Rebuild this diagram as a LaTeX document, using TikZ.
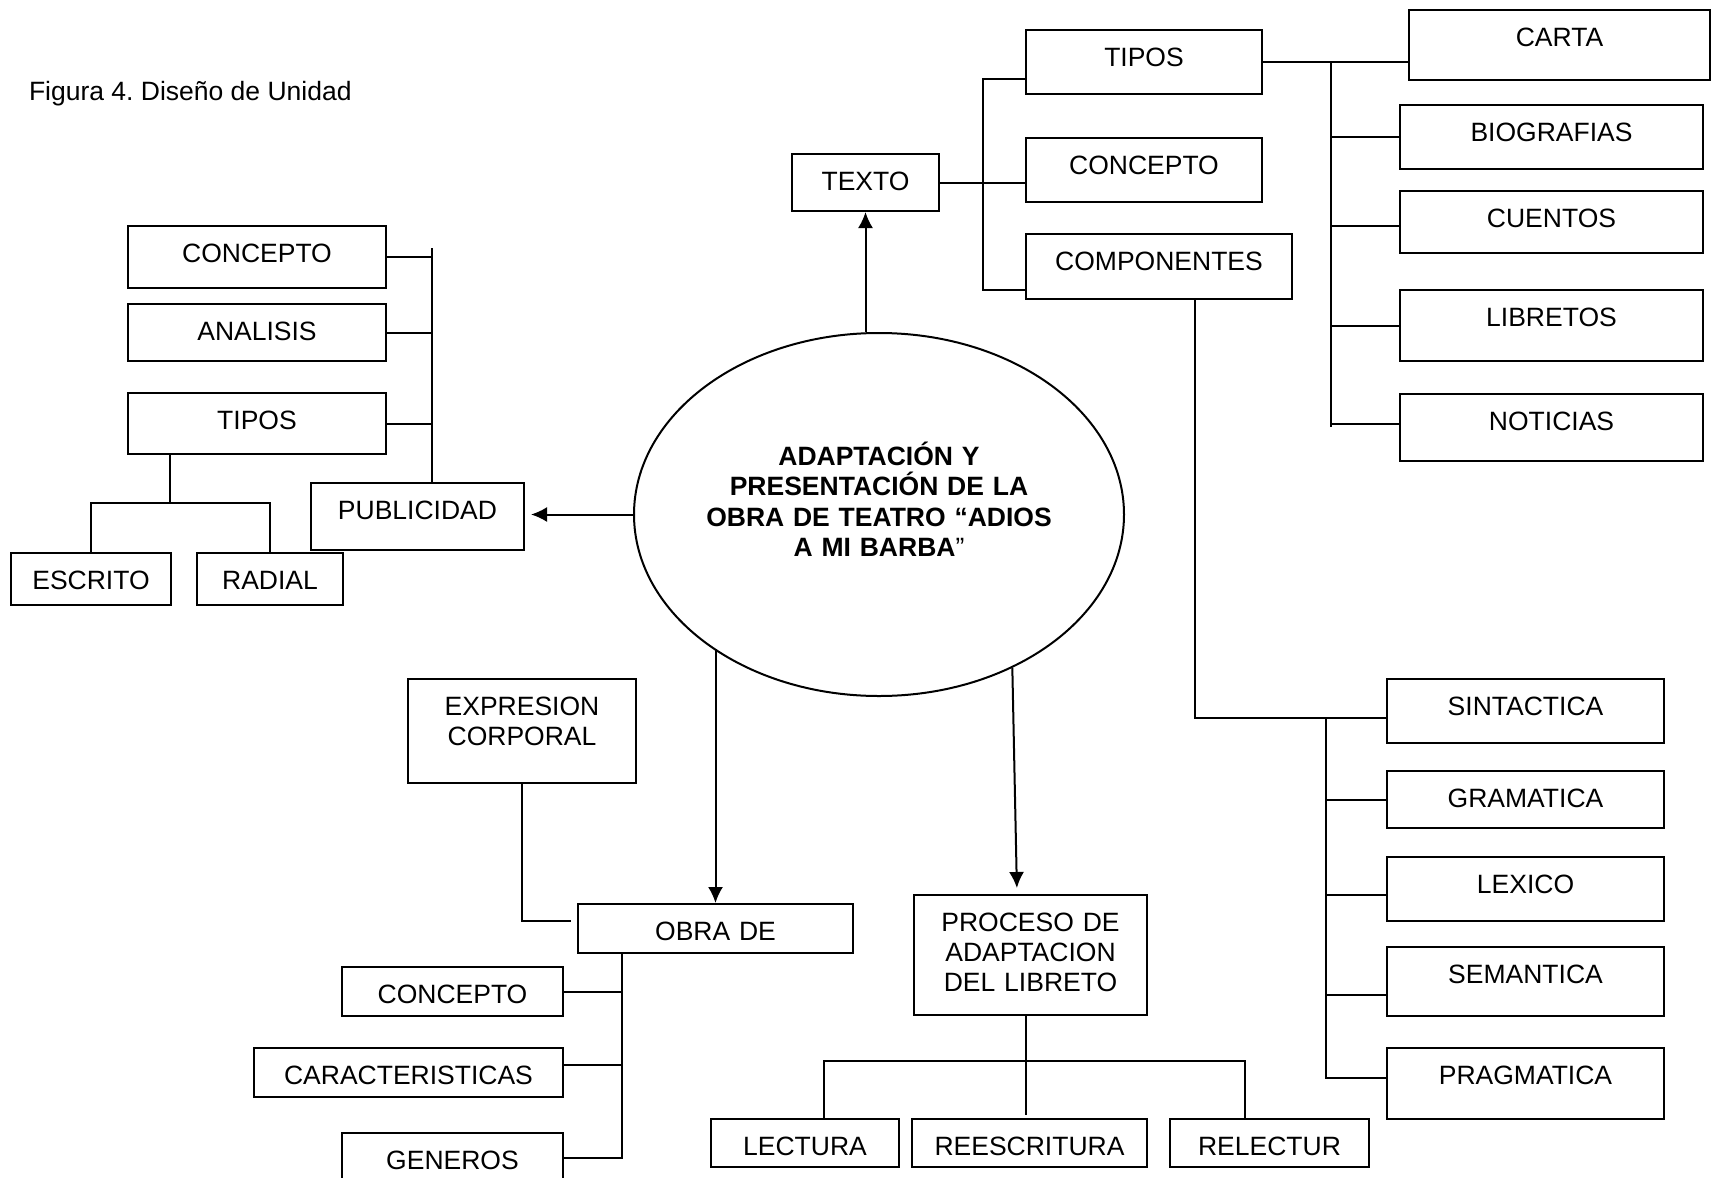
\documentclass[tikz,border=0pt]{standalone}
\usepackage{fontspec}
\setmainfont{Liberation Sans}
\usetikzlibrary{arrows.meta,shapes.geometric}
\frenchspacing
\begin{document}
\begin{tikzpicture}[x=1pt,y=-1pt,line width=2pt,
  cbox/.style={draw,rectangle,anchor=north west,inner sep=0pt,align=center,text height=36pt,font=\fontsize{26.5}{30}\selectfont},
  ellnode/.style={draw,ellipse,inner sep=0pt,minimum width=490pt,minimum height=363pt,align=center,text width=346pt,text height=20pt,text depth=119pt,font=\bfseries\fontsize{26.5}{30.5}\selectfont},
  arr/.style={-{Latex[length=16pt,width=15pt]}},
  capt/.style={anchor=base west,inner sep=0pt,font=\fontsize{26.5}{30}\selectfont}]
\useasboundingbox (0,0) rectangle (1711,1178);
\fill[white] (0,0) rectangle (1711,1178);
\clip (0,0) rectangle (1711,1178);

\node[capt] (caption) at (28,100) {Figura 4. Diseño de Unidad};

\node[ellnode] (ell) at (879,514.5) {ADAPTACIÓN Y\\PRESENTACIÓN DE LA\\OBRA DE TEATRO “ADIOS\\A MI BARBA{\mdseries ”}};

% left cluster
\node[cbox,text width=258pt,text depth=26pt] (lconc) at (127,225) {CONCEPTO};
\node[cbox,text width=258pt,text depth=21pt] (lanal) at (127,303) {ANALISIS};
\node[cbox,text width=258pt,text depth=25pt] (ltipos) at (127,392) {TIPOS};
\node[cbox,text width=213pt,text depth=31pt] (publ) at (310,482) {PUBLICIDAD};
\node[cbox,text width=160pt,text depth=16pt] (escr) at (10,552) {ESCRITO};
\node[cbox,text width=146pt,text depth=16pt] (radial) at (196,552) {RADIAL};

% top cluster
\node[cbox,text width=147pt,text depth=21pt] (texto) at (791,153) {TEXTO};
\node[cbox,text width=236pt,text depth=28pt] (ttipos) at (1025,29) {TIPOS};
\node[cbox,text width=236pt,text depth=28pt] (tconc) at (1025,137) {CONCEPTO};
\node[cbox,text width=266pt,text depth=29pt] (comp) at (1025,233) {COMPONENTES};
\node[cbox,text width=301pt,text depth=34pt] (carta) at (1408,9) {CARTA};
\node[cbox,text width=303pt,text depth=28pt] (bio) at (1399,104) {BIOGRAFIAS};
\node[cbox,text width=303pt,text depth=26pt] (cuentos) at (1399,190) {CUENTOS};
\node[cbox,text width=303pt,text depth=35pt] (libretos) at (1399,289) {LIBRETOS};
\node[cbox,text width=303pt,text depth=31pt] (noticias) at (1399,393) {NOTICIAS};

% right bottom cluster
\node[cbox,text width=277pt,text depth=28pt] (sint) at (1386,678) {SINTACTICA};
\node[cbox,text width=277pt,text depth=21pt] (gram) at (1386,770) {GRAMATICA};
\node[cbox,text width=277pt,text depth=28pt] (lex) at (1386,856) {LEXICO};
\node[cbox,text width=277pt,text depth=33pt] (sem) at (1386,946) {SEMANTICA};
\node[cbox,text width=277pt,text depth=35pt] (prag) at (1386,1047) {PRAGMATICA};

% bottom cluster
\node[cbox,text width=228pt,text depth=68pt] (expr) at (407,678) {EXPRESION\\CORPORAL};
\node[cbox,text width=275pt,text depth=13pt] (obra) at (577,903) {OBRA DE};
\node[cbox,text width=221pt,text depth=13pt] (bconc) at (341,966) {CONCEPTO};
\node[cbox,text width=309pt,text depth=13pt] (carac) at (253,1047) {CARACTERISTICAS};
\node[cbox,text width=221pt,text depth=22pt] (gen) at (341,1132) {GENEROS};
\node[cbox,text width=233pt,text depth=84pt] (proc) at (913,894) {PROCESO DE\\ADAPTACION\\DEL LIBRETO};
\node[cbox,text width=188pt,text depth=12pt] (lect) at (710,1118) {LECTURA};
\node[cbox,text width=235pt,text depth=12pt] (reesc) at (911,1118) {REESCRITURA};
\node[cbox,text width=199pt,text depth=12pt] (relec) at (1169,1118) {RELECTUR};

% arrows from the ellipse
\draw[arr,shorten >=6pt] (ell.west) -- (ell.west -| publ.east);
\draw[arr] (ell.north -| texto.south) -- (texto.south);
\draw[arr] (obra.north |- ell.219) -- (obra.north);
\draw[arr,shorten >=6pt] (ell.-49) -- ([xshift=-13.5pt]proc.north);

% left connectors
\coordinate (lbus) at ([xshift=45pt,yshift=-23pt]lconc.north east);
\draw (lbus) -- (lbus |- publ.north);
\draw (lconc.east) -- (lconc.east -| lbus);
\draw (lanal.east) -- (lanal.east -| lbus);
\draw (ltipos.east) -- (ltipos.east -| lbus);
\draw ([xshift=43pt]ltipos.south west) -- ++(0,48) coordinate (ltj);
\draw (escr.north) |- (ltj) -| (radial.north);

% top connectors
\draw (texto.east) -- (texto.east -| tconc.west);
\draw ([yshift=-17pt]ttipos.west) -- ++(-42,0) |- ([yshift=-23.5pt]comp.west);
\draw (ttipos.east) -- (ttipos.east -| carta.west);
\coordinate (tbus) at ([xshift=68pt]ttipos.east);
\draw (tbus) -- ++(0,365);
\draw (bio.west) -- (bio.west -| tbus);
\coordinate (cu) at ([yshift=-4pt]cuentos.west);
\draw (cu) -- (cu -| tbus);
\draw (libretos.west) -- (libretos.west -| tbus);
\coordinate (no) at ([yshift=3.5pt]noticias.west);
\draw (no) -- (no -| tbus);

% components connectors
\coordinate (sb) at ([xshift=-60pt,yshift=-7pt]sint.west);
\draw ([xshift=36pt]comp.south) |- (sb) -- ([yshift=-7pt]sint.west);
\coordinate (pr) at ([yshift=5.5pt]prag.west);
\draw (sb) |- (pr);
\draw (gram.west) -- (gram.west -| sb);
\coordinate (lx) at ([yshift=-6pt]lex.west);
\draw (lx) -- (lx -| sb);
\coordinate (sm) at ([yshift=-13.5pt]sem.west);
\draw (sm) -- (sm -| sb);

% obra connectors
\draw (expr.south) |- ([xshift=-6pt,yshift=7.5pt]obra.west);
\coordinate (obus) at ([xshift=45pt]obra.south west);
\draw (obus) |- ([yshift=4pt]gen.east);
\draw (bconc.east) -- (bconc.east -| obus);
\coordinate (cc) at ([yshift=8pt]carac.east);
\draw (cc) -- (cc -| obus);

% proceso connectors
\draw ([xshift=-4.5pt]proc.south) -- ([xshift=-3.5pt,yshift=3pt]reesc.north);
\draw ([xshift=19pt]lect.north) -- ++(0,-57) -| ([xshift=-24.5pt]relec.north);
\end{tikzpicture}
\end{document}
